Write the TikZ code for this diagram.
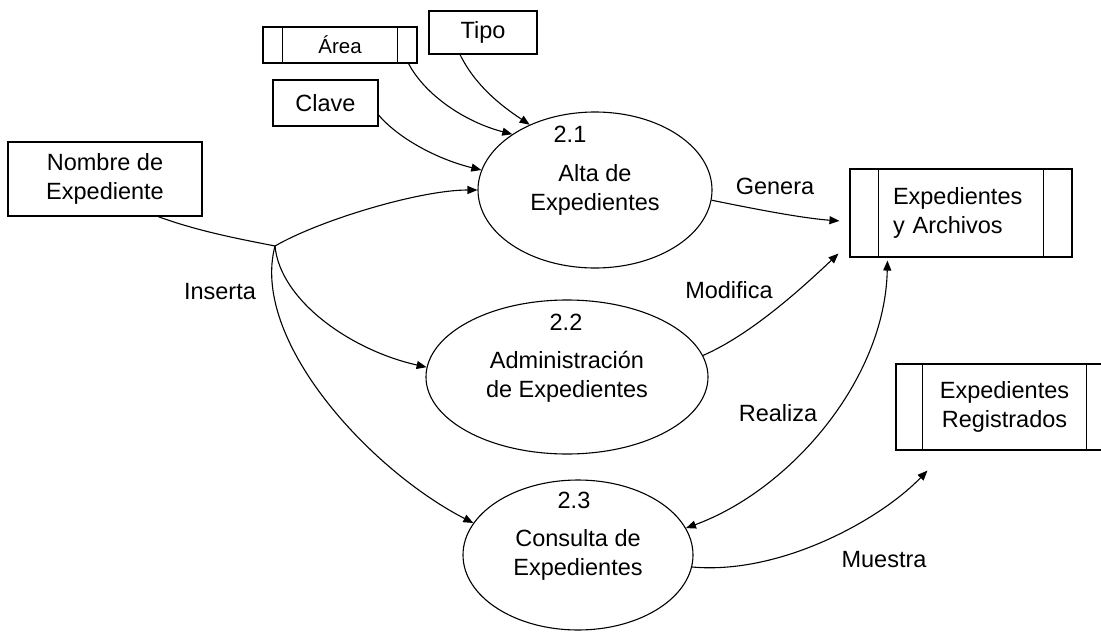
\documentclass[tikz,border=0pt]{standalone}
\usepackage{fontspec}
\setmainfont{Liberation Sans}
\usetikzlibrary{shapes.geometric,arrows.meta,calc}
\newcommand\dfdmain{\fontsize{23.5}{29}\selectfont}
\newcommand\dfdsmall{\fontsize{20.5}{24}\selectfont}
\begin{document}
\begin{tikzpicture}[x=1pt,y=-1pt,
  every node/.style={font=\dfdmain, text=black},
  box/.style={draw, rectangle, line width=1.1pt, inner sep=0pt, align=center},
  proc/.style={draw, ellipse, line width=1.1pt, inner sep=0pt, align=center},
  flow/.style={line width=1.1pt, -{Triangle[length=10pt,width=8pt]}},
  biflow/.style={line width=1.1pt, {Triangle[length=10pt,width=8pt]}-{Triangle[length=10pt,width=8pt]}},
  plain/.style={line width=1.1pt},
  lbl/.style={inner sep=0pt}]
\clip (0,0) rectangle (1101,632);
\fill[white] (0,0) rectangle (1101,632);

% external entities / data
\node[box, minimum width=108pt, minimum height=43pt] (tipo) at (483,32.5) {Tipo};
\node[box, minimum width=154pt, minimum height=36pt] (area) at (340,45) {\dfdsmall Área};
\draw[plain] ($(area.north west)+(20,0)$) -- ($(area.south west)+(20,0)$);
\draw[plain] ($(area.north east)+(-20,0)$) -- ($(area.south east)+(-20,0)$);
\node[box, minimum width=105pt, minimum height=46pt] (clave) at (325.5,103) {Clave};
\node[box, minimum width=194pt, minimum height=74pt] (nombre) at (105,179) {Nombre de\\Expediente};

% processes
\node[proc, minimum width=234pt, minimum height=156pt] (e21) at (595,190) {Alta de\\Expedientes};
\node[lbl] (n21) at (570,134) {2.1};
\node[proc, minimum width=282pt, minimum height=154pt] (e22) at (567,377) {Administración\\de Expedientes};
\node[lbl] (n22) at (566,322) {2.2};
\node[proc, minimum width=230pt, minimum height=150pt] (e23) at (578,555) {Consulta de\\Expedientes};
\node[lbl] (n23) at (574,500) {2.3};

% data stores
\node[box, minimum width=222pt, minimum height=88pt, text width=136pt, align=left] (exparch) at (961,213) {Expedientes\\y Archivos};
\draw[plain] ($(exparch.north west)+(29,0)$) -- ($(exparch.south west)+(29,0)$);
\draw[plain] ($(exparch.north east)+(-29,0)$) -- ($(exparch.south east)+(-29,0)$);
\node[box, minimum width=217pt, minimum height=86pt] (expreg) at (1004.5,407) {Expedientes\\Registrados};
\draw[plain] ($(expreg.north west)+(27,0)$) -- ($(expreg.south west)+(27,0)$);
\draw[plain] ($(expreg.north east)+(-27,0)$) -- ($(expreg.south east)+(-27,0)$);

% coordinates
\coordinate (j) at (275,246);
\coordinate (mtip) at ($(expreg.south west)+(32,20)$);

% flows into 2.1
\draw[flow] ($(tipo.south)+(-23,0)$) .. controls (475,85) and (500,105) .. (e21.135);
\draw[flow] ($(area.south east)+(-9,0)$) .. controls (425,95) and (465,122) .. (e21.146);
\draw[flow] ($(clave.east)+(0,12)$) .. controls (400,140) and (440,160) .. (e21.170);

% Nombre de Expediente branching
\draw[plain] ($(nombre.south)+(53,0)$) .. controls (200,232) and (245,240) .. (j);
\draw[flow] (j) .. controls (320,220) and (420,190) .. (e21.180);
\draw[flow] (j) .. controls (280,300) and (350,350) .. (e22.176);
\draw[flow] (j) .. controls (250,340) and (370,470) .. (e23.163);
\node[lbl] (inserta) at (220,292) {Inserta};

% outputs
\draw[flow, shorten >=1pt] (e21.-5) .. controls (750,208) and (800,218) .. ($(exparch.west)+(-9,8)$);
\node[lbl] (genera) at (775,186) {Genera};
\draw[flow] (e22.9) .. controls (750,335) and (800,290) .. ($(exparch.south west)+(-11,-4)$);
\node[lbl] (modifica) at (729,290) {Modifica};
\draw[biflow] ($(exparch.south west)+(38,3)$) .. controls (885,380) and (790,490) .. (e23.14);
\node[lbl] (realiza) at (778,413) {Realiza};
\draw[flow] (e23.-6) .. controls (780,575) and (880,520) .. (mtip);
\node[lbl] (muestra) at (884,560) {Muestra};
\end{tikzpicture}
\end{document}
